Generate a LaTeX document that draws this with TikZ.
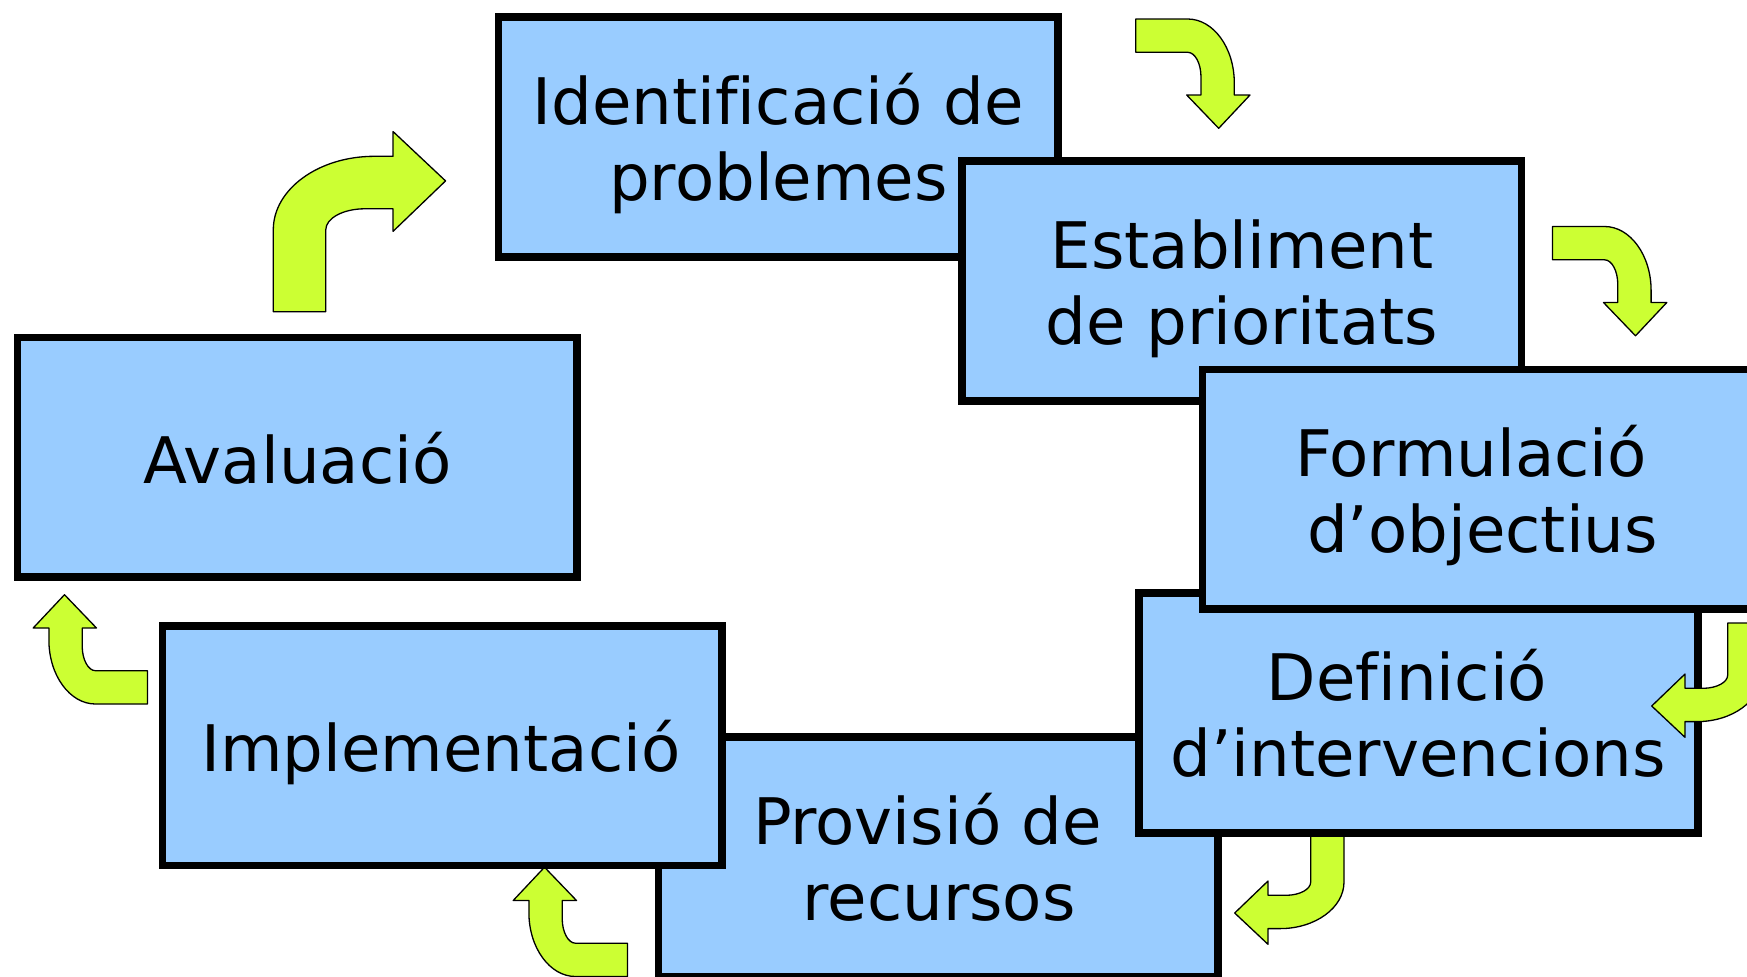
\documentclass[tikz,border=0pt]{standalone}
\usepackage{fontspec}
\newfontfamily\boxfont[Ligatures=NoCommon]{DejaVu Sans}
\definecolor{boxblue}{HTML}{99CCFF}
\definecolor{arrowgreen}{HTML}{CCFF33}
\tikzset{
  stagebox/.style={draw=black, fill=boxblue, line width=3.85pt, rectangle,
    minimum width=279.65pt, minimum height=119.9pt, inner sep=0pt, outer sep=0pt},
  lbl/.style={inner sep=0pt, anchor=base, font=\boxfont\fontsize{32.1pt}{38pt}\selectfont},
  bentarrow/.style={fill=arrowgreen, draw=black, line width=0.65pt, line join=round},
  bent/.pic={
    \draw[bentarrow] (0,0) -- (52,0) .. controls (77.7,0) and (98.6,28.7) .. (98.6,64)
      -- (98.6,76) -- (114.3,76) -- (83,109.3) -- (51,76) -- (65.3,76) -- (65.3,58)
      .. controls (65.3,44.4) and (59.3,33.3) .. (52,33.3) -- (0,33.3) -- cycle;
  }
}
\begin{document}
\begin{tikzpicture}[x=0.5pt, y=-0.5pt]
\useasboundingbox (0,0) rectangle (1747,976);
\clip (0,0) rectangle (1747,976);
\fill[white] (0,0) rectangle (1747,976);
% arrows below boxes
\pic (a1) at (1135.7,19) {bent};
\pic (a2) at (1552.5,226.5) {bent};
\pic[rotate=-90] (a4) at (1344,830) {bent};
\pic[rotate=180] (a5) at (147.5,704) {bent};
\pic[rotate=180] (a6) at (627.5,976.5) {bent};
\pic[rotate=90, scale=1.576] (a7) at (273.3,311.7) {bent};
% boxes
\node[stagebox] (b5) at (938.2,857.05) {};
\node[lbl] (t5a) at (927.5,844) {Provisió de};
\node[lbl] (t5b) at (939,920) {recursos};
\node[stagebox] (b6) at (442,745.55) {};
\node[lbl] (t6) at (441,771.8) {Implementació};
\node[stagebox] (b4) at (1418.3,713.05) {};
\node[lbl] (t4a) at (1407,700) {Definició};
\node[lbl] (t4b) at (1418.3,776) {d’intervencions};
\node[stagebox] (b1) at (778,137.05) {};
\node[lbl] (t1a) at (778,124) {Identificació de};
\node[lbl] (t1b) at (778.5,200) {problemes};
\node[stagebox] (b2) at (1241.8,281.05) {};
\node[lbl] (t2a) at (1242,268) {Establiment};
\node[lbl] (t2b) at (1242,344) {de prioritats};
\node[stagebox] (b3) at (1482,489.25) {};
\node[lbl] (t3a) at (1471,476.2) {Formulació};
\node[lbl] (t3b) at (1482.5,552.2) {d’objectius};
\node[stagebox] (b7) at (297.1,457.35) {};
\node[lbl] (t7) at (297.5,483.2) {Avaluació};
% arrow over box
\pic[rotate=-90] (a3) at (1761,623) {bent};
\end{tikzpicture}
\end{document}
